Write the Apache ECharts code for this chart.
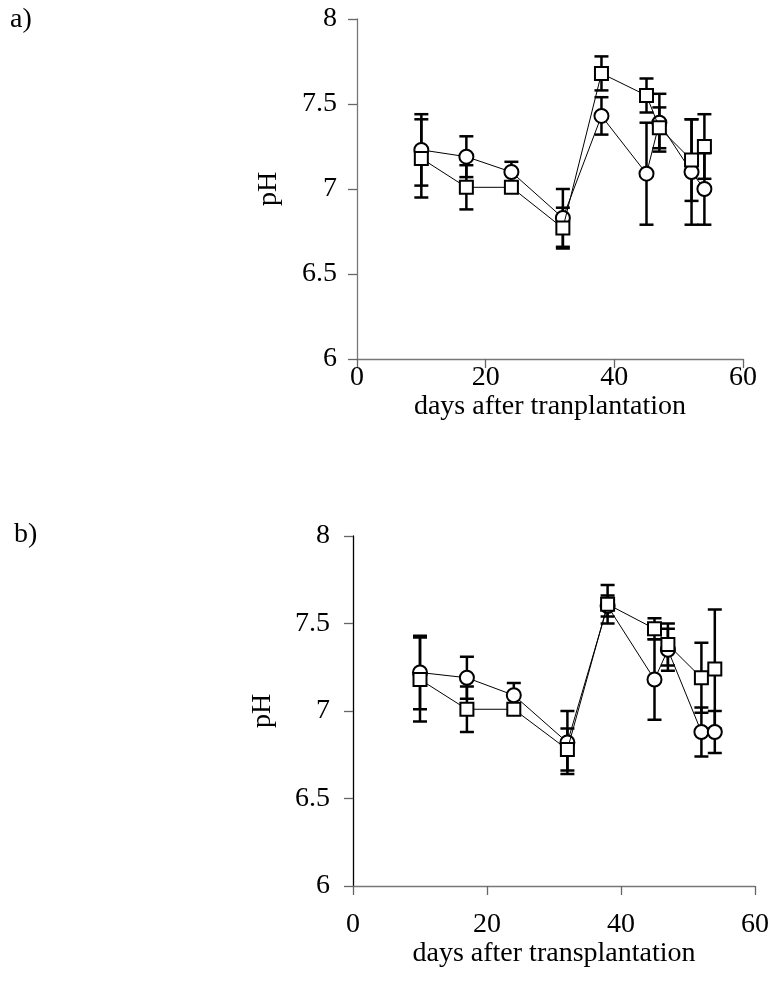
<!DOCTYPE html>
<html>
<head>
<meta charset="utf-8">
<script src="https://cdn.jsdelivr.net/npm/echarts/dist/echarts.min.js"></script>
<style>
html,body{margin:0;padding:0;background:#fff;}
#chart{width:772px;height:989px;}
</style>
</head>
<body>
<div id="chart"></div>
<script>
// ---- data ----
var days = [10, 17, 24, 32, 38, 45, 47, 52, 54];
var xTicks = [0, 20, 40, 60];
var yTicks = [6, 6.5, 7, 7.5, 8];

// panel a
var aCircle    = [7.23, 7.19, 7.10, 6.83, 7.43, 7.09, 7.39, 7.10, 7.00];
var aCircleErr = [0.21, 0.12, 0.06, 0.17, 0.11, 0.30, 0.17, 0.31, 0.21];
var aSquare    = [7.18, 7.01, 7.01, 6.77, 7.68, 7.55, 7.36, 7.17, 7.25];
var aSquareErr = [0.23, 0.13, 0.02, 0.12, 0.10, 0.10, 0.12, 0.24, 0.19];

// panel b
var bCircle    = [7.22, 7.19, 7.09, 6.82, 7.60, 7.18, 7.35, 6.88, 6.88];
var bCircleErr = [0.21, 0.12, 0.07, 0.18, 0.06, 0.23, 0.12, 0.14, 0.12];
var bSquare    = [7.18, 7.01, 7.01, 6.78, 7.61, 7.47, 7.38, 7.19, 7.24];
var bSquareErr = [0.24, 0.13, 0.03, 0.12, 0.11, 0.06, 0.12, 0.20, 0.34];

var xNameA = 'days after tranplantation';
var xNameB = 'days after transplantation';
var yName = 'pH';

// ---- build ----
var FONT = '"Liberation Serif", "Times New Roman", serif';
var FS = 28;

function pairs(v) { return days.map(function (d, i) { return [d, v[i]]; }); }
function errData(v, e) { return days.map(function (d, i) { return [d, v[i], e[i]]; }); }

function errSeries(idx, v, e) {
  return {
    type: 'custom', xAxisIndex: idx, yAxisIndex: idx, z: 1,
    data: errData(v, e),
    encode: { x: 0, y: 1 },
    renderItem: function (params, api) {
      var x = api.value(0), y = api.value(1), er = api.value(2);
      var t = api.coord([x, y + er]);
      var b = api.coord([x, y - er]);
      var hw = 7;
      var st = { stroke: '#000', lineWidth: 2.5 };
      return {
        type: 'group',
        children: [
          { type: 'line', shape: { x1: t[0], y1: t[1], x2: b[0], y2: b[1] }, style: st },
          { type: 'line', shape: { x1: t[0] - hw, y1: t[1], x2: t[0] + hw, y2: t[1] }, style: st },
          { type: 'line', shape: { x1: b[0] - hw, y1: b[1], x2: b[0] + hw, y2: b[1] }, style: st }
        ]
      };
    }
  };
}

function lineSeries(idx, v, symbol, size, z) {
  return {
    type: 'line', xAxisIndex: idx, yAxisIndex: idx, z: z,
    data: pairs(v),
    symbol: symbol, symbolSize: size, showSymbol: true,
    lineStyle: { color: '#000', width: 1 },
    itemStyle: { color: '#fff', borderColor: '#000', borderWidth: 2 },
    emphasis: { disabled: true }
  };
}

function xAxis(idx, name, labelMargin, nameGap, lineColor) {
  return {
    type: 'value', gridIndex: idx, min: 0, max: 60, interval: 20,
    name: name, nameLocation: 'middle', nameGap: nameGap,
    nameTextStyle: { fontFamily: FONT, fontSize: FS, color: '#000', verticalAlign: 'middle' },
    axisLine: { show: true, lineStyle: { color: lineColor, width: 1.3 } },
    axisTick: { show: true, inside: false, length: 9, lineStyle: { color: '#666', width: 1.3 } },
    axisLabel: { margin: labelMargin, fontFamily: FONT, fontSize: FS, color: '#000' },
    splitLine: { show: false }
  };
}

function yAxis(idx, labelMargin, nameGap, lineColor) {
  return {
    type: 'value', gridIndex: idx, min: 6, max: 8, interval: 0.5,
    name: yName, nameLocation: 'middle', nameGap: nameGap, nameRotate: 90,
    nameTextStyle: { fontFamily: FONT, fontSize: FS, color: '#000', verticalAlign: 'middle' },
    axisLine: { show: true, lineStyle: { color: lineColor, width: 1.3 } },
    axisTick: { show: true, inside: false, length: 9, lineStyle: { color: '#666', width: 1.3 } },
    axisLabel: { margin: labelMargin, fontFamily: FONT, fontSize: FS, color: '#000' },
    splitLine: { show: false }
  };
}

var chart = echarts.init(document.getElementById('chart'), null, { renderer: 'canvas' });
chart.setOption({
  animation: false,
  backgroundColor: '#fff',
  grid: [
    { left: 357, top: 19, width: 386, height: 340 },
    { left: 353, top: 536, width: 402, height: 350 }
  ],
  xAxis: [
    xAxis(0, xNameA, 5, 45, '#777'),
    xAxis(1, xNameB, 25, 67, '#777')
  ],
  yAxis: [
    yAxis(0, 20, 88, '#777'),
    yAxis(1, 23, 90, '#000')
  ],
  graphic: [
    { type: 'text', left: 10, top: 6, style: { text: 'a)', font: FS + 'px ' + FONT, fill: '#000' } },
    { type: 'text', left: 14, top: 521, style: { text: 'b)', font: FS + 'px ' + FONT, fill: '#000' } }
  ],
  series: [
    errSeries(0, aCircle, aCircleErr),
    errSeries(0, aSquare, aSquareErr),
    lineSeries(0, aCircle, 'circle', 14, 2),
    lineSeries(0, aSquare, 'rect', 13, 3),
    errSeries(1, bCircle, bCircleErr),
    errSeries(1, bSquare, bSquareErr),
    lineSeries(1, bCircle, 'circle', 14, 2),
    lineSeries(1, bSquare, 'rect', 13, 3)
  ]
});
</script>
</body>
</html>
